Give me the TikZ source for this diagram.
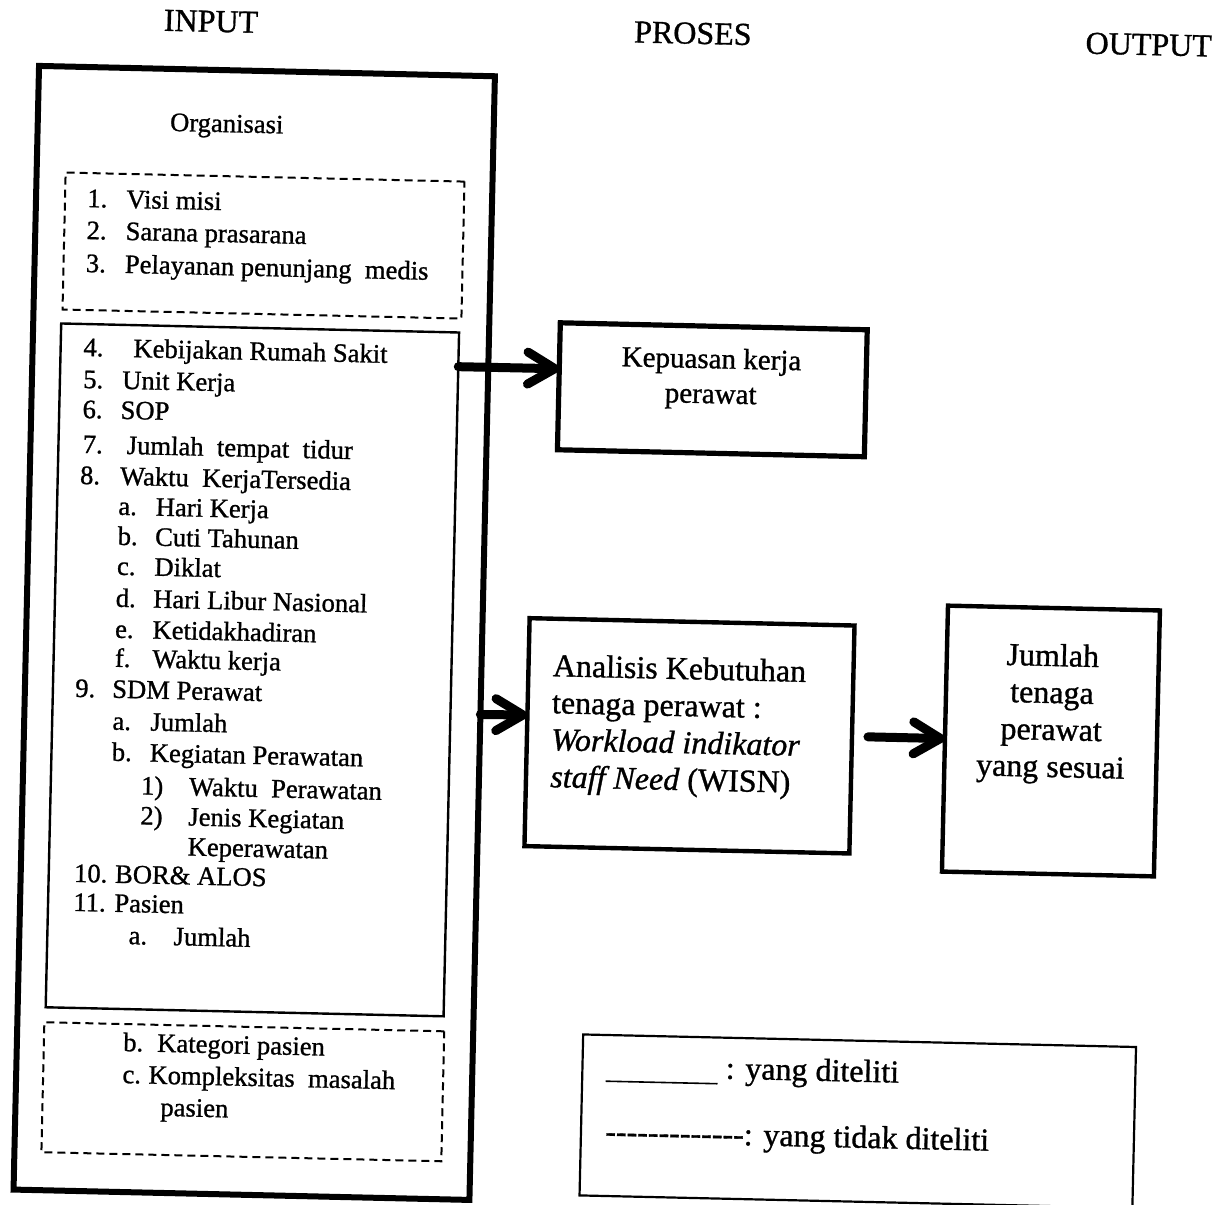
\documentclass[tikz,border=0pt]{standalone}
\usepackage{fontspec}
\setmainfont{Liberation Serif}[FakeBold = 1]
\usetikzlibrary{arrows.meta}
\usetikzlibrary{calc}
\tikzset{outerbox/.style = {draw, line width = 3pt, anchor = north west, inner sep = 0, outer sep = 0}}
\tikzset{listbox/.style = {draw, line width = 1.2pt, anchor = north west, inner sep = 0, outer sep = 0}}
\tikzset{skipbox/.style = {draw, line width = 1pt, dash pattern = on 4pt off 2.5pt, anchor = north west, inner sep = 0, outer sep = 0}}
\tikzset{resultbox/.style = {draw, line width = 2.2pt, anchor = north west, inner sep = 0, outer sep = 0}}
\tikzset{legendbox/.style = {draw, line width = 1.1pt, anchor = north west, inner sep = 0, outer sep = 0}}
\tikzset{heading/.style = {anchor = base, inner sep = 0, font = \fontsize{16}{19}\selectfont}}
\tikzset{listitem/.style = {anchor = base west, inner sep = 0, font = \fontsize{13.3}{16}\selectfont}}
\tikzset{boxtext/.style = {inner sep = 0, font = \fontsize{16}{18.5}\selectfont}}
\tikzset{arr/.style = {line width = 4.5pt, line cap = round, -{Straight Barb[length = 13.5pt, width = 16pt, round]}}}
\newcommand{\listentry}[3]{\makebox[#1pt][l]{#2}#3}
\newcommand{\dashmark}{\mbox{-}}

\begin{document}
\begin{tikzpicture}[x = 0.5pt, y = -0.5pt]
    \useasboundingbox (0, 0) rectangle (1222, 1205);
    \begin{scope}[rotate around = {-1.3:(611, 602)}, transform shape]
    \node [heading] (input) at (198, 41) {INPUT};
    \node [heading] (proses) at (680, 42) {PROSES};
    \node [heading] (output) at (1136, 43) {OUTPUT};

    \node [outerbox, minimum width = 228pt, minimum height = 562pt] (inputbox) at (27, 79) {};
    \node [listitem] (org) at (159, 141) {Organisasi};

    \node [skipbox, minimum width = 199.5pt, minimum height = 68.5pt] (skiptop) at (56, 185) {};
    \node [listitem] (i1) at (78, 219) {\listentry{19.5}{1.}{Visi misi}};
    \node [listitem] (i2) at (78, 251) {\listentry{19.5}{2.}{Sarana prasarana}};
    \node [listitem] (i3) at (78, 284) {\listentry{19.5}{3.}{Pelayanan penunjang~ medis}};

    \node [listbox, minimum width = 199pt, minimum height = 342pt] (innerbox) at (55, 336) {};
    \node [listitem] (i4) at (77.5, 368) {\listentry{25}{4.}{Kebijakan Rumah Sakit}};
    \node [listitem] (i5) at (78, 400) {\listentry{19.5}{5.}{Unit Kerja}};
    \node [listitem] (i6) at (78, 430) {\listentry{19}{6.}{SOP}};
    \node [listitem] (i7) at (79, 465) {\listentry{22}{7.}{Jumlah~ tempat~ tidur}};
    \node [listitem] (i8) at (77, 496) {\listentry{20}{8.}{Waktu~ KerjaTersedia}};
    \node [listitem] (i8a) at (116, 526) {\listentry{18.7}{a.}{Hari Kerja}};
    \node [listitem] (i8b) at (116, 556) {\listentry{18.7}{b.}{Cuti Tahunan}};
    \node [listitem] (i8c) at (116, 586) {\listentry{18.7}{c.}{Diklat}};
    \node [listitem] (i8d) at (115.5, 618) {\listentry{18.7}{d.}{Hari Libur Nasional}};
    \node [listitem] (i8e) at (115.5, 649) {\listentry{18.7}{e.}{Ketidakhadiran}};
    \node [listitem] (i8f) at (116, 678) {\listentry{18.7}{f.}{Waktu kerja}};
    \node [listitem] (i9) at (77, 709) {\listentry{18.5}{9.}{SDM Perawat}};
    \node [listitem] (i9a) at (115, 741) {\listentry{19}{a.}{Jumlah}};
    \node [listitem] (i9b) at (115, 772) {\listentry{19}{b.}{Kegiatan Perawatan}};
    \node [listitem] (i9b1) at (145, 805) {\listentry{24}{1)}{Waktu~ Perawatan}};
    \node [listitem] (i9b2) at (145, 835) {\listentry{24}{2)}{Jenis Kegiatan}};
    \node [listitem] (i9b2x) at (145, 865) {\listentry{24}{}{Keperawatan}};
    \node [listitem] (i10) at (80, 894) {\listentry{20.5}{10.}{BOR\& ALOS}};
    \node [listitem] (i11) at (80, 923) {\listentry{20.5}{11.}{Pasien}};
    \node [listitem] (i11a) at (136, 955) {\listentry{22.5}{a.}{Jumlah}};

    \node [skipbox, minimum width = 200pt, minimum height = 65pt] (skipbottom) at (54, 1035) {};
    \node [listitem] (i11b) at (133, 1062) {\listentry{17}{b.}{Kategori pasien}};
    \node [listitem] (i11c) at (133, 1094) {\listentry{13}{c.}{Kompleksitas~ masalah}};
    \node [listitem] (i11cx) at (133, 1126) {\listentry{19.3}{}{pasien}};

    \node [resultbox, line width = 2.6pt, minimum width = 153.5pt, minimum height = 63.5pt] (kepuasan) at (554, 324) {};
    \node [boxtext, anchor = base, font = \fontsize{14.5}{17.5}\selectfont] (kepuasantext) at (706, 366)
        {\begin{tabular}[t]{@{}c@{}}Kepuasan kerja\\ perawat\end{tabular}};

    \node [resultbox, minimum width = 162.5pt, minimum height = 114pt] (analisis) at (530, 620) {};
    \node [boxtext, anchor = base west] (analisistext) at (554, 677.5)
        {\begin{tabular}[t]{@{}l@{}}Analisis Kebutuhan\\ tenaga perawat :\\ \textit{Workload indikator}\\ \textit{staff Need} (WISN)\end{tabular}};

    \node [resultbox, minimum width = 106pt, minimum height = 133pt] (jumlah) at (948, 598) {};
    \node [boxtext, anchor = base] (jumlahtext) at (1054, 656)
        {\begin{tabular}[t]{@{}c@{}}Jumlah\\ tenaga\\ perawat\\ yang sesuai\end{tabular}};

    \draw [arr] ($(innerbox.north east)!0.05!(innerbox.south east)$) -- ($(kepuasan.north west)!0.362!(kepuasan.south west)$);
    \draw [arr] ($(inputbox.north east)!0.568!(inputbox.south east)$) -- ($(analisis.north west)!0.425!(analisis.south west)$);
    \coordinate (wisnout) at (871, 731);
    \draw [arr] (wisnout) -- (jumlah.west);

    \node [legendbox, minimum width = 276.5pt, minimum height = 80.5pt] (legend) at (593, 1035) {};
    \node [boxtext, anchor = base west] (seen) at (616, 1076) {\rule[-3pt]{56pt}{0.8pt} : yang diteliti};
    \node [boxtext, anchor = base west] (unseen) at (617, 1142)
        {\dashmark\dashmark\dashmark\dashmark\dashmark\dashmark\dashmark\dashmark\dashmark\dashmark\dashmark\dashmark\dashmark: yang tidak diteliti};
    \end{scope}
  \end{tikzpicture}
\end{document}
